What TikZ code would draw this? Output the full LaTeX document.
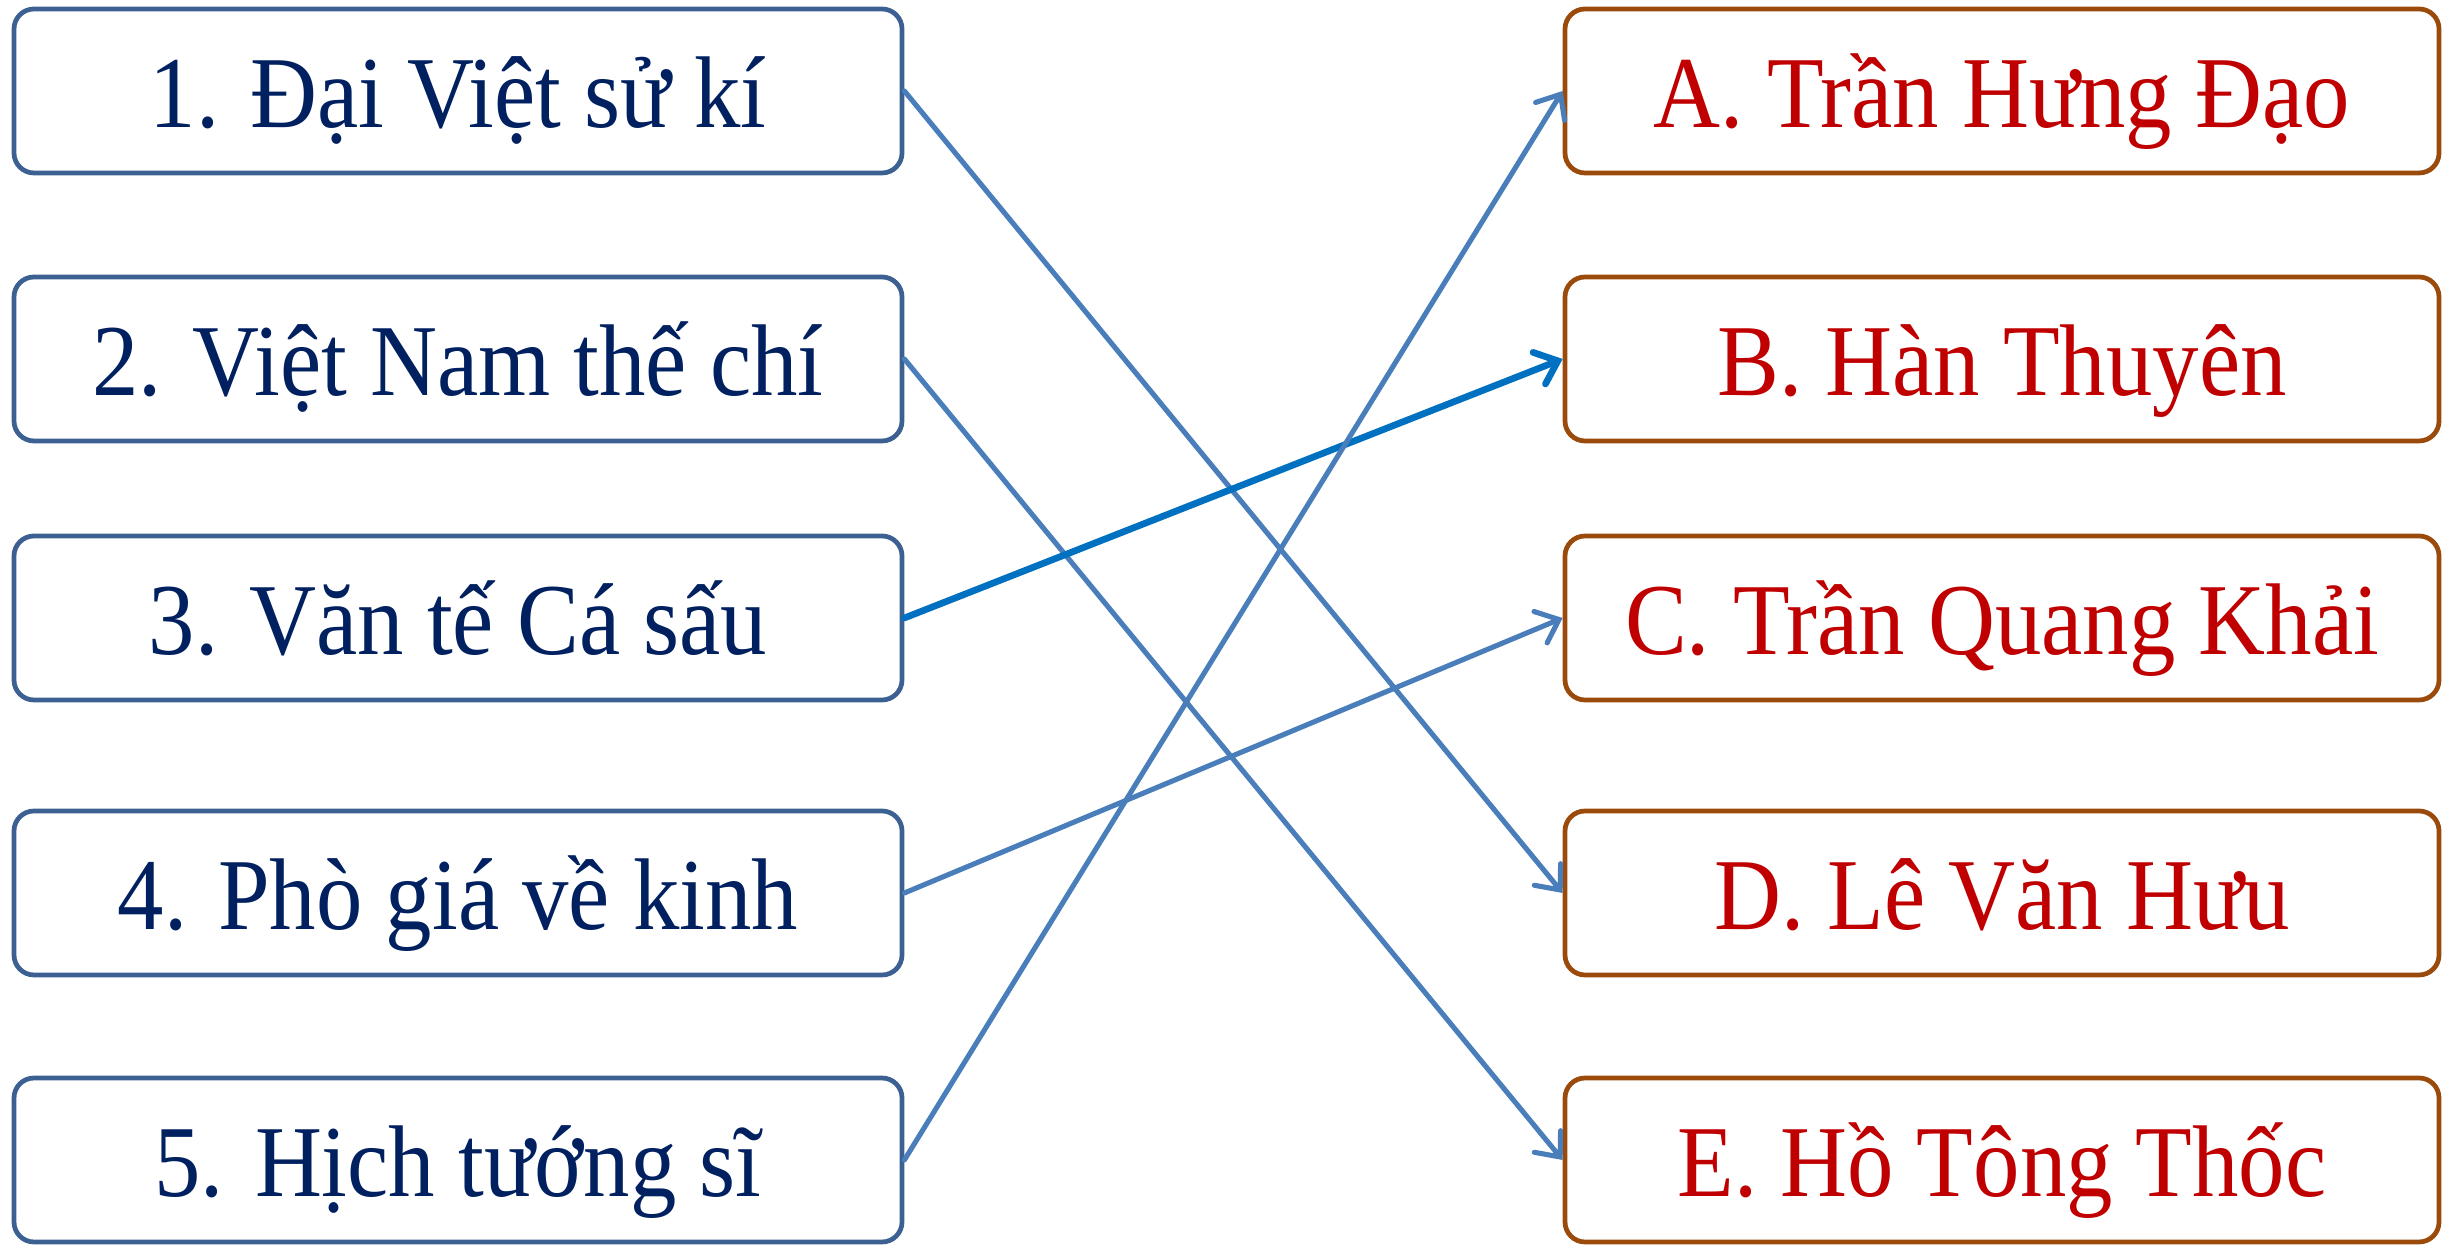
\documentclass[tikz,border=0pt]{standalone}
\usepackage{fontspec}
\setmainfont{Liberation Serif}[FakeStretch=0.91]
\usepackage{xcolor}
\usetikzlibrary{arrows.meta}

\definecolor{leftedge}{HTML}{3C6091}
\definecolor{lefttext}{HTML}{002060}
\definecolor{rightedge}{HTML}{9A4A0A}
\definecolor{righttext}{HTML}{C00000}
\definecolor{linkblue}{HTML}{4A7EBB}
\definecolor{linkdark}{HTML}{0070C0}

\begin{document}
\begin{tikzpicture}[
        workbox/.style={draw=leftedge, line width=1.35pt, rounded corners=0.2cm,
            minimum width=8.88cm, minimum height=1.64cm, inner sep=0pt,
            text height=0.74cm, text depth=0cm,
            text=lefttext, font=\fontsize{29}{32}\selectfont},
        authorbox/.style={draw=rightedge, line width=1.35pt, rounded corners=0.2cm,
            minimum width=8.74cm, minimum height=1.64cm, inner sep=0pt,
            text height=0.74cm, text depth=0cm,
            text=righttext, font=\fontsize{29}{32}\selectfont},
        link/.style={linkblue, line width=1.45pt, line cap=round,
            -{Straight Barb[length=2mm, width=3.4mm, line cap=round]}},
    ]
            \useasboundingbox (0,0) rectangle (24.43,12.45);

            %% works
            \node[workbox] (w1) at (4.58,11.54) {1. Đại Việt sử kí};
            \node[workbox] (w2) at (4.58,8.86)  {2. Việt Nam thế chí};
            \node[workbox] (w3) at (4.58,6.27)  {3. Văn tế Cá sấu};
            \node[workbox] (w4) at (4.58,3.52)  {4. Phò giá về kinh};
            \node[workbox] (w5) at (4.58,0.85)  {5. Hịch tướng sĩ};

            %% authors
            \node[authorbox] (a) at (20.02,11.54) {A. Trần Hưng Đạo};
            \node[authorbox] (b) at (20.02,8.86)  {B. Hàn Thuyên};
            \node[authorbox] (c) at (20.02,6.27)  {C. Trần Quang Khải};
            \node[authorbox] (d) at (20.02,3.52)  {D. Lê Văn Hưu};
            \node[authorbox] (e) at (20.02,0.85)  {E. Hồ Tông Thốc};

            %% links
            \draw[link] (w1.east) -- (d.west);
            \draw[link] (w2.east) -- (e.west);
            \draw[link, linkdark, line width=1.9pt] (w3.east) -- (b.west);
            \draw[link] (w4.east) -- (c.west);
            \draw[link] (w5.east) -- (a.west);

\end{tikzpicture}
\end{document}
